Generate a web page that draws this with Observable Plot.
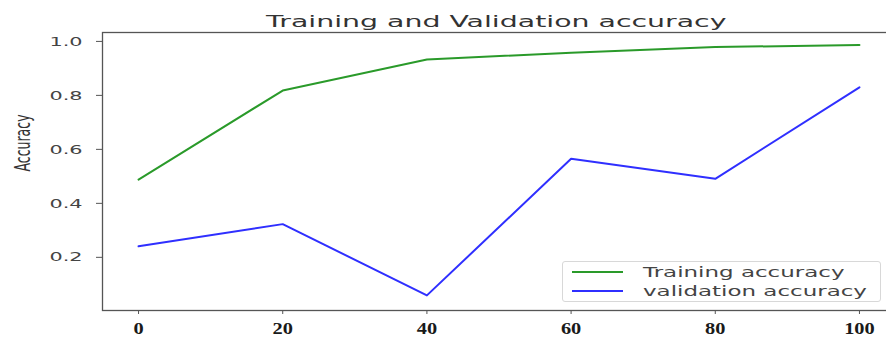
<!DOCTYPE html>
<html>
<head>
<meta charset="utf-8">
<script src="https://cdn.jsdelivr.net/npm/d3@7"></script>
<script src="https://cdn.jsdelivr.net/npm/@observablehq/plot@0.6"></script>
<style>
  html, body { margin: 0; padding: 0; background: #fff; overflow: hidden; }
  #wrap { position: relative; width: 886px; height: 340px; overflow: hidden; }
  #wrap svg { overflow: hidden; }
  .legend { position: absolute; left: 562px; top: 261px; width: 319px; height: 41px;
            border: 1px solid #d8d8d8; border-radius: 3px; background: rgba(255,255,255,0.85);
            font-family: "DejaVu Sans", sans-serif; font-size: 14px; color: #444; box-sizing: border-box; }
  .legend .row { position: absolute; left: 0; height: 19px; width: 100%; }
  .legend .sw { position: absolute; left: 9px; width: 51px; height: 2px; top: 8px; }
  .legend .lb { position: absolute; left: 80px; top: 0; line-height: 18px; white-space: nowrap;
                transform: scaleX(1.64); transform-origin: left center; }
</style>
</head>
<body>
<div id="wrap"></div>
<script>
const title = "Training and Validation accuracy";
const yLabel = "Accuracy";
const seriesNames = ["Training accuracy", "validation accuracy"];
const seriesColors = ["#2a9a2a", "#2f2fff"];
const epochs = [0, 20, 40, 60, 80, 100];
const trainAcc = [0.488, 0.818, 0.933, 0.958, 0.979, 0.987];
const valAcc = [0.241, 0.323, 0.059, 0.565, 0.491, 0.830];
const xTicks = [0, 20, 40, 60, 80, 100];
const yTicks = [0.2, 0.4, 0.6, 0.8, 1.0];

const data = [
  ...epochs.map((e, i) => ({epoch: e, acc: trainAcc[i], series: seriesNames[0]})),
  ...epochs.map((e, i) => ({epoch: e, acc: valAcc[i], series: seriesNames[1]}))
];

const fmtX = d3.format("d");
const fmtY = d3.format(".1f");

const chart = Plot.plot({
  width: 886,
  height: 340,
  marginLeft: 102,
  marginRight: -9,
  marginTop: 32,
  marginBottom: 30,
  style: {background: "#fff", color: "#555"},
  x: {domain: [-5, 105], ticks: xTicks, tickSize: 4, tickPadding: 7, label: null, tickFormat: fmtX},
  y: {domain: [0.003, 1.033], ticks: yTicks, tickSize: 6, tickPadding: 14, label: null, tickFormat: fmtY},
  color: {domain: seriesNames, range: seriesColors},
  marks: [
    Plot.frame({stroke: "#555", strokeWidth: 1.3}),
    Plot.line(data, {x: "epoch", y: "acc", z: "series", stroke: "series", strokeWidth: 2}),
    Plot.text([title], {frameAnchor: "top", dy: -11, dx: -3, lineAnchor: "middle", fontSize: 16.5,
      fontFamily: "DejaVu Sans", fill: "#333"}),
    Plot.text([yLabel], {frameAnchor: "left", dx: -80, rotate: -90, lineAnchor: "middle", fontSize: 12.5,
      fontFamily: "DejaVu Sans", fill: "#333"})
  ]
});
document.getElementById("wrap").appendChild(chart);

const svg = chart.tagName.toLowerCase() === "svg" ? chart : chart.querySelector("svg");

// horizontal (page-x) stretch of a text element around its anchor, keeping x/y attributes untouched
function stretchText(t, k, rotated) {
  let bb;
  try { bb = t.getBBox(); } catch (e) { return; }
  const tr = t.getAttribute("transform") || "";
  if (rotated) {
    const cy = bb.y + bb.height / 2;
    t.setAttribute("transform", `${tr} translate(0,${cy}) scale(1,${k}) translate(0,${-cy})`);
  } else {
    const cs = getComputedStyle(t);
    const anchor = t.getAttribute("text-anchor") || cs.textAnchor || "start";
    let ax = bb.x;
    if (anchor === "middle") ax = bb.x + bb.width / 2;
    else if (anchor === "end") ax = bb.x + bb.width;
    t.setAttribute("transform", `${tr} translate(${ax},0) scale(${k},1) translate(${-ax},0)`);
  }
}

const xLabels = new Set(xTicks.map(fmtX));
const yLabels = new Set(yTicks.map(fmtY));
const texts = Array.from(svg.querySelectorAll("text"));
texts.forEach(t => {
  const s = t.textContent.trim();
  if (s === title) {
    stretchText(t, 1.72, false);
  } else if (s === yLabel) {
    stretchText(t, 1.7, true);
  } else if (yLabels.has(s)) {
    t.setAttribute("font-family", "DejaVu Sans");
    t.setAttribute("font-size", "13");
    t.setAttribute("fill", "#444");
    t.style.fontFamily = "DejaVu Sans"; t.style.fontSize = "13px";
    stretchText(t, 1.6, false);
  } else if (xLabels.has(s)) {
    t.setAttribute("font-family", "Liberation Serif");
    t.setAttribute("font-size", "17");
    t.setAttribute("font-weight", "bold");
    t.setAttribute("fill", "#1a1a1a");
    t.style.fontFamily = "Liberation Serif"; t.style.fontSize = "17px"; t.style.fontWeight = "bold";
    stretchText(t, 1.2, false);
  }
});

// legend
const legend = document.createElement("div");
legend.className = "legend";
seriesNames.forEach((name, i) => {
  const row = document.createElement("div");
  row.className = "row";
  row.style.top = (1 + i * 19) + "px";
  const sw = document.createElement("div");
  sw.className = "sw";
  sw.style.background = seriesColors[i];
  const lb = document.createElement("div");
  lb.className = "lb";
  lb.textContent = name;
  row.appendChild(sw); row.appendChild(lb);
  legend.appendChild(row);
});
document.getElementById("wrap").appendChild(legend);
</script>
</body>
</html>
